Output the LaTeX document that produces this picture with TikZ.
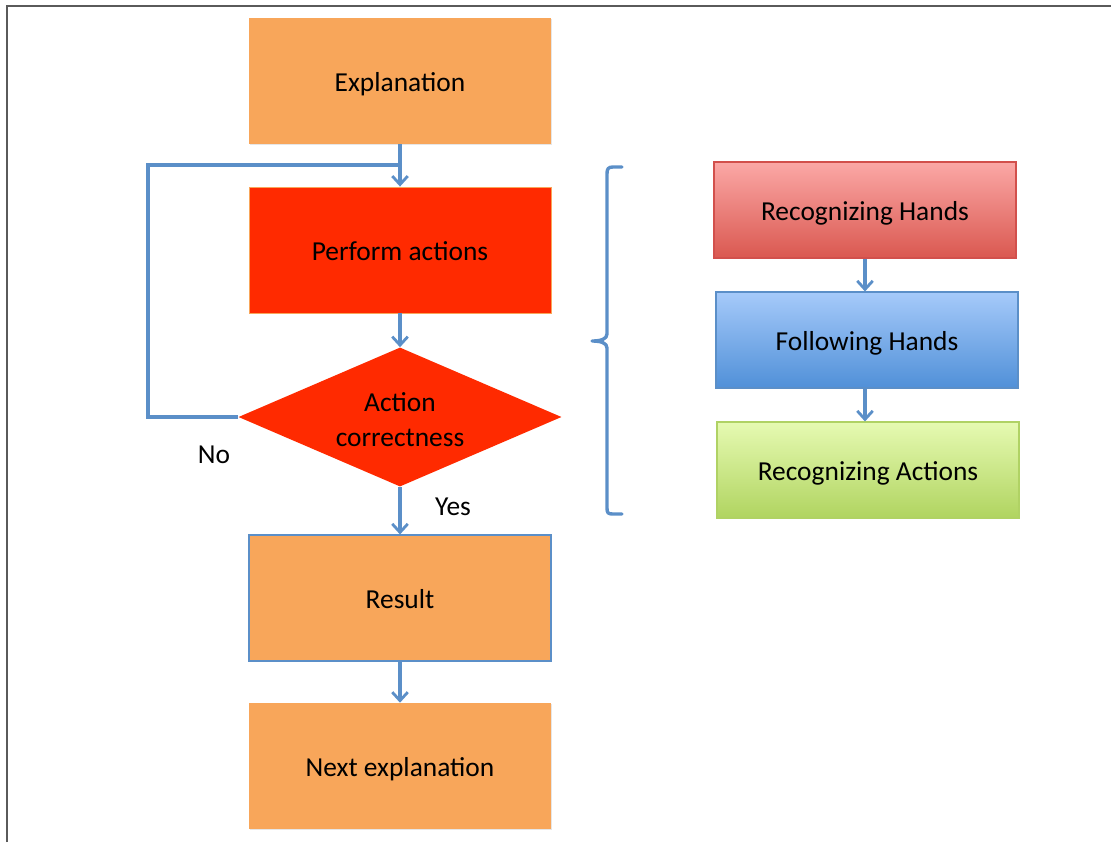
\documentclass[tikz,border=0pt]{standalone}
\usepackage{fontspec}
\setmainfont{Carlito}
\usetikzlibrary{shapes.geometric,arrows.meta,shadows}

\definecolor{stepfill}{HTML}{F8A65A}
\definecolor{hotfill}{HTML}{FF2A00}
\definecolor{linkblue}{HTML}{5B8FC8}
\definecolor{frameline}{HTML}{5A5A5A}
\definecolor{handstop}{RGB}{251,168,166}
\definecolor{handsbot}{RGB}{218,88,80}
\definecolor{handsline}{RGB}{210,80,76}
\definecolor{followtop}{RGB}{166,202,250}
\definecolor{followbot}{RGB}{80,144,216}
\definecolor{actstop}{RGB}{230,250,178}
\definecolor{actsbot}{RGB}{176,212,96}
\definecolor{actsline}{RGB}{176,210,100}

\tikzset{
  softshadow/.style={drop shadow={opacity=0.2,shadow xshift=0.7pt,shadow yshift=-0.7pt}},
  oneline/.style={text height=19.4pt, text depth=4.7pt},
  block/.style={rectangle, inner sep=0pt, minimum width=7.55cm, minimum height=3.15cm, fill=stepfill, oneline, softshadow},
  hotblock/.style={block, fill=hotfill, draw=stepfill, line width=0.6pt},
  check/.style={diamond, aspect=2.3, inner sep=0pt, minimum width=8.075cm, minimum height=3.475cm, fill=hotfill, align=center, text height=42.5pt, text depth=0pt},
  stage/.style={rectangle, inner sep=0pt, minimum width=7.55cm, minimum height=2.4cm, line width=0.8pt, oneline, softshadow},
  flow/.style={draw=linkblue, line width=2.2pt},
  flowarrow/.style={flow, -{Straight Barb[length=6pt,width=11pt,line width=2pt]}},
  bracket/.style={draw=linkblue, line width=2.4pt, line cap=round, line join=round}
}

\begin{document}
\begin{tikzpicture}[x=0.025cm, y=-0.025cm, font=\fontsize{19.5}{25}\selectfont]
	\useasboundingbox (0,0) rectangle (1111,842);
	\draw[frameline, line width=1.8pt] (7,842) -- (7,6) -- (1111,6);

	% main flow
	\node[block] (expl) at (400,81) {Explanation};
	\node[hotblock] (act) at (400,250) {Perform actions};
	\node[check] (chk) at (400,417) {Action\\correctness};
	\node[block, draw=linkblue, line width=0.8pt] (res) at (400,598) {Result};
	\node[block] (next) at (400,766) {Next explanation};

	\node (no) at (214,455) {No};
	\node (yes) at (453,507) {Yes};

	\coordinate (loop) at (148,165);

	\draw[flowarrow] (expl) -- (act);
	\draw[flowarrow] (act) -- (chk);
	\draw[flowarrow] (chk) -- (res);
	\draw[flowarrow] (res) -- (next);
	\draw[flow] (chk.west) -| (loop) -- (loop -| act.north);

	% brace
	\draw[bracket] (622,167) -- (613,167) .. controls (608,167) and (607,169) .. (607,174)
		-- (607,334) .. controls (607,339) and (601,341) .. (592,341)
		.. controls (601,341) and (607,343) .. (607,348)
		-- (607,508) .. controls (607,513) and (608,514) .. (613,514) -- (622,514);

	% recognition stages
	\node[stage, draw=handsline, top color=handstop, bottom color=handsbot] (hands) at (865,210) {Recognizing Hands};
	\node[stage, draw=linkblue, top color=followtop, bottom color=followbot] (follow) at (867,340) {Following Hands};
	\node[stage, draw=actsline, top color=actstop, bottom color=actsbot] (acts) at (868,470) {Recognizing Actions};

	\draw[flowarrow] (hands.south) -- (hands.south |- follow.north);
	\draw[flowarrow] (follow.south -| hands.south) -- (hands.south |- acts.north);
\end{tikzpicture}
\end{document}
